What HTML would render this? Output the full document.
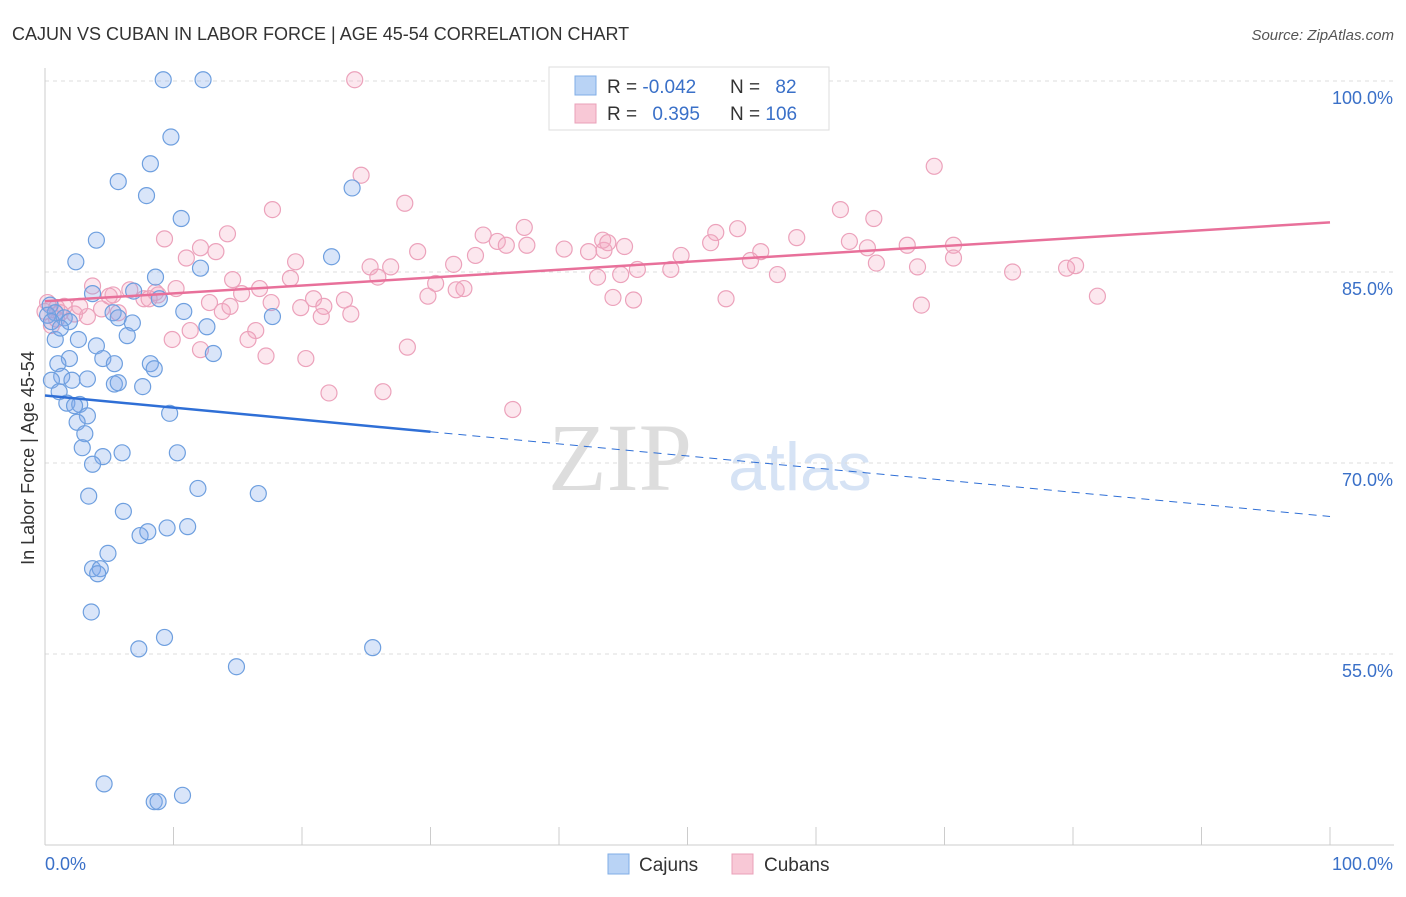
<!DOCTYPE html>
<html><head><meta charset="utf-8"><style>
body{margin:0;background:#fff;font-family:"Liberation Sans",sans-serif;}
</style></head><body>
<svg id="c" width="1406" height="892" xmlns="http://www.w3.org/2000/svg" style="font-family:'Liberation Sans',sans-serif">
<text x="12" y="40" font-size="18" fill="#333">CAJUN VS CUBAN IN LABOR FORCE | AGE 45-54 CORRELATION CHART</text>
<text x="1394" y="40" font-size="15" fill="#555" text-anchor="end" font-style="italic">Source: ZipAtlas.com</text>
<text x="620" y="490" font-size="96" fill="#ddd" font-family="Liberation Serif" text-anchor="middle">ZIP</text>
<text x="800" y="490" font-size="68" fill="#d6e3f5" text-anchor="middle">atlas</text>
<text transform="translate(34,458) rotate(-90)" font-size="18" fill="#333" text-anchor="middle">In Labor Force | Age 45-54</text>
<g id="grid"></g><g id="pts"></g><g id="trend"></g>
<g>
<rect x="549" y="67" width="280" height="63" fill="#fff" stroke="#ddd"/>
<rect x="575" y="76" width="21" height="19" fill="#b9d3f5" stroke="#80aee6"/>
<rect x="575" y="104" width="21" height="19" fill="#f8c8d6" stroke="#eaa0b8"/>
<text x="607" y="93" font-size="19" fill="#333">R = <tspan fill="#3a70c8">-0.042</tspan></text>
<text x="730" y="93" font-size="19" fill="#333">N = <tspan fill="#3a70c8" dx="10">82</tspan></text>
<text x="607" y="120" font-size="19" fill="#333">R = <tspan fill="#3a70c8" dx="10">0.395</tspan></text>
<text x="730" y="120" font-size="19" fill="#333">N = <tspan fill="#3a70c8">106</tspan></text>
</g>
<g>
<rect x="608" y="854" width="21" height="20" fill="#b9d3f5" stroke="#80aee6"/>
<text x="639" y="871" font-size="19" fill="#333">Cajuns</text>
<rect x="732" y="854" width="21" height="20" fill="#f8c8d6" stroke="#eaa0b8"/>
<text x="764" y="871" font-size="19" fill="#333">Cubans</text>
</g>
</svg>
<script>
const yTicks=[100,85,70,55];
const yTickLabels=["100.0%","85.0%","70.0%","55.0%"];
const xTickLabels=["0.0%","100.0%"];
const cajunX=[9.2,12.3,9.8,8.2,5.7,7.9,10.6,4.0,23.9,2.4,22.3,12.1,8.6,3.7,8.9,6.9,0.4,0.8,1.5,5.3,5.7,10.8,6.8,17.7,12.6,0.8,2.6,4.0,6.4,13.1,1.9,1.0,4.5,5.4,8.2,8.5,1.3,2.1,3.3,0.5,5.4,5.7,7.6,1.1,1.7,2.7,2.3,3.3,2.5,9.7,3.1,2.9,4.5,6.0,10.3,3.7,11.9,16.6,3.4,6.1,7.4,8.0,9.5,11.1,4.9,3.7,4.3,4.1,3.6,9.3,7.3,14.9,25.5,4.6,8.5,8.8,10.7,0.2,0.5,1.9,1.2];
const cajunY=[100.1,100.1,95.6,93.5,92.1,91.0,89.2,87.5,91.6,85.8,86.2,85.3,84.6,83.3,82.9,83.5,82.4,81.8,81.4,81.8,81.4,81.9,81.0,81.5,80.7,79.7,79.7,79.2,80.0,78.6,78.2,77.8,78.2,77.8,77.8,77.4,76.8,76.5,76.6,76.5,76.2,76.3,76.0,75.6,74.7,74.6,74.5,73.7,73.2,73.9,72.3,71.2,70.5,70.8,70.8,69.9,68.0,67.6,67.4,66.2,64.3,64.6,64.9,65.0,62.9,61.7,61.7,61.3,58.3,56.3,55.4,54.0,55.5,44.8,43.4,43.4,43.9,81.6,81.1,81.1,80.6];
const cubanX=[24.1,69.2,24.6,28.0,17.7,61.9,64.5,52.2,53.9,37.3,14.2,9.3,34.1,35.2,35.9,37.5,58.5,62.6,51.8,12.1,13.3,29.0,40.4,42.3,43.5,45.1,43.4,43.8,64.0,67.1,70.7,11.0,19.5,25.3,26.9,70.7,49.5,55.7,54.9,64.7,67.9,31.8,33.5,25.9,30.4,32.6,14.6,19.1,43.0,44.8,46.1,48.7,57.0,75.3,79.5,80.2,3.7,5.3,6.6,7.7,8.6,10.2,15.3,16.7,29.8,32.0,44.2,45.8,53.0,68.2,81.9,0.2,0.9,1.5,2.3,3.3,4.4,5.7,12.8,13.8,17.6,19.9,20.9,21.7,23.8,21.5,16.4,11.3,9.9,15.8,12.1,17.2,20.3,28.2,22.1,26.3,36.4,1.2,0.5,0.0,0.9,2.7,5.0,8.8,8.1,14.4,23.3];
const cubanY=[100.1,93.3,92.6,90.4,89.9,89.9,89.2,88.1,88.4,88.5,88.0,87.6,87.9,87.4,87.1,87.1,87.7,87.4,87.3,86.9,86.6,86.6,86.8,86.6,86.7,87.0,87.5,87.3,86.9,87.1,87.1,86.1,85.8,85.4,85.4,86.1,86.3,86.6,85.9,85.7,85.4,85.6,86.3,84.6,84.1,83.7,84.4,84.5,84.6,84.8,85.2,85.2,84.8,85.0,85.3,85.5,83.9,83.2,83.6,82.9,83.4,83.7,83.3,83.7,83.1,83.6,83.0,82.8,82.9,82.4,83.1,82.6,82.2,82.3,81.7,81.5,82.1,81.8,82.6,81.9,82.6,82.2,82.9,82.3,81.7,81.5,80.4,80.4,79.7,79.7,78.9,78.4,78.2,79.1,75.5,75.6,74.2,81.8,80.8,81.9,81.3,82.3,83.1,83.2,82.9,82.3,82.8];
const cajunTrend=[75.3,65.8];
const cubanTrend=[82.7,88.9];
const NS="http://www.w3.org/2000/svg";
const X=v=>45+v*12.85, Y=v=>81+(100-v)*12.733;
function mk(tag,at,parent){const e=document.createElementNS(NS,tag);for(const k in at)e.setAttribute(k,at[k]);parent.appendChild(e);return e;}
const grid=document.getElementById('grid');
yTicks.forEach((t,i)=>{
 const l=mk('line',{x1:45,x2:1394,y1:Y(t),y2:Y(t),stroke:'#ddd','stroke-dasharray':'4,4'},grid);
 
 
 const tx=mk('text',{x:1393,y:Y(t)+23,'font-size':18,fill:'#3a70c8','text-anchor':'end'},grid);
 tx.textContent=yTickLabels[i];
 
 
});
const ax=mk('line',{x1:45,x2:45,y1:68,y2:845,stroke:'#ccc'},grid);


const bx=mk('line',{x1:45,x2:1394,y1:845,y2:845,stroke:'#ccc'},grid);


for(let i=0;i<=10;i++){const t=mk('line',{x1:X(i*10),x2:X(i*10),y1:827,y2:845,stroke:'#ccc'},grid);
 
 }
[[0,'start',45],[100,'end',1393]].forEach((d,i)=>{const t=mk('text',{x:d[2],y:870,'font-size':18,fill:'#3a70c8','text-anchor':d[1]},grid);t.textContent=xTickLabels[i];
 
 });
const pts=document.getElementById('pts');
cubanX.forEach((v,i)=>{const c=mk('circle',{cx:X(v),cy:Y(cubanY[i]),r:8,fill:'rgba(244,170,195,0.28)',stroke:'#eca2bb','stroke-width':1.2},pts);
 
 });
cajunX.forEach((v,i)=>{const c=mk('circle',{cx:X(v),cy:Y(cajunY[i]),r:8,fill:'rgba(130,170,235,0.3)',stroke:'#6e9fdf','stroke-width':1.2},pts);
 
 });
const tr=document.getElementById('trend');
const cy=x=>cajunTrend[0]+(cajunTrend[1]-cajunTrend[0])*x/100;
let l1=mk('line',{x1:X(0),y1:Y(cy(0)),x2:X(30),y2:Y(cy(30)),stroke:'#2f6fd6','stroke-width':2.5},tr);


let l2=mk('line',{x1:X(30),y1:Y(cy(30)),x2:X(100),y2:Y(cy(100)),stroke:'#2f6fd6','stroke-width':1,'stroke-dasharray':'8,6'},tr);


let l3=mk('line',{x1:X(0),y1:Y(cubanTrend[0]),x2:X(100),y2:Y(cubanTrend[1]),stroke:'#e8709a','stroke-width':2.5},tr);


</script>
</body></html>
